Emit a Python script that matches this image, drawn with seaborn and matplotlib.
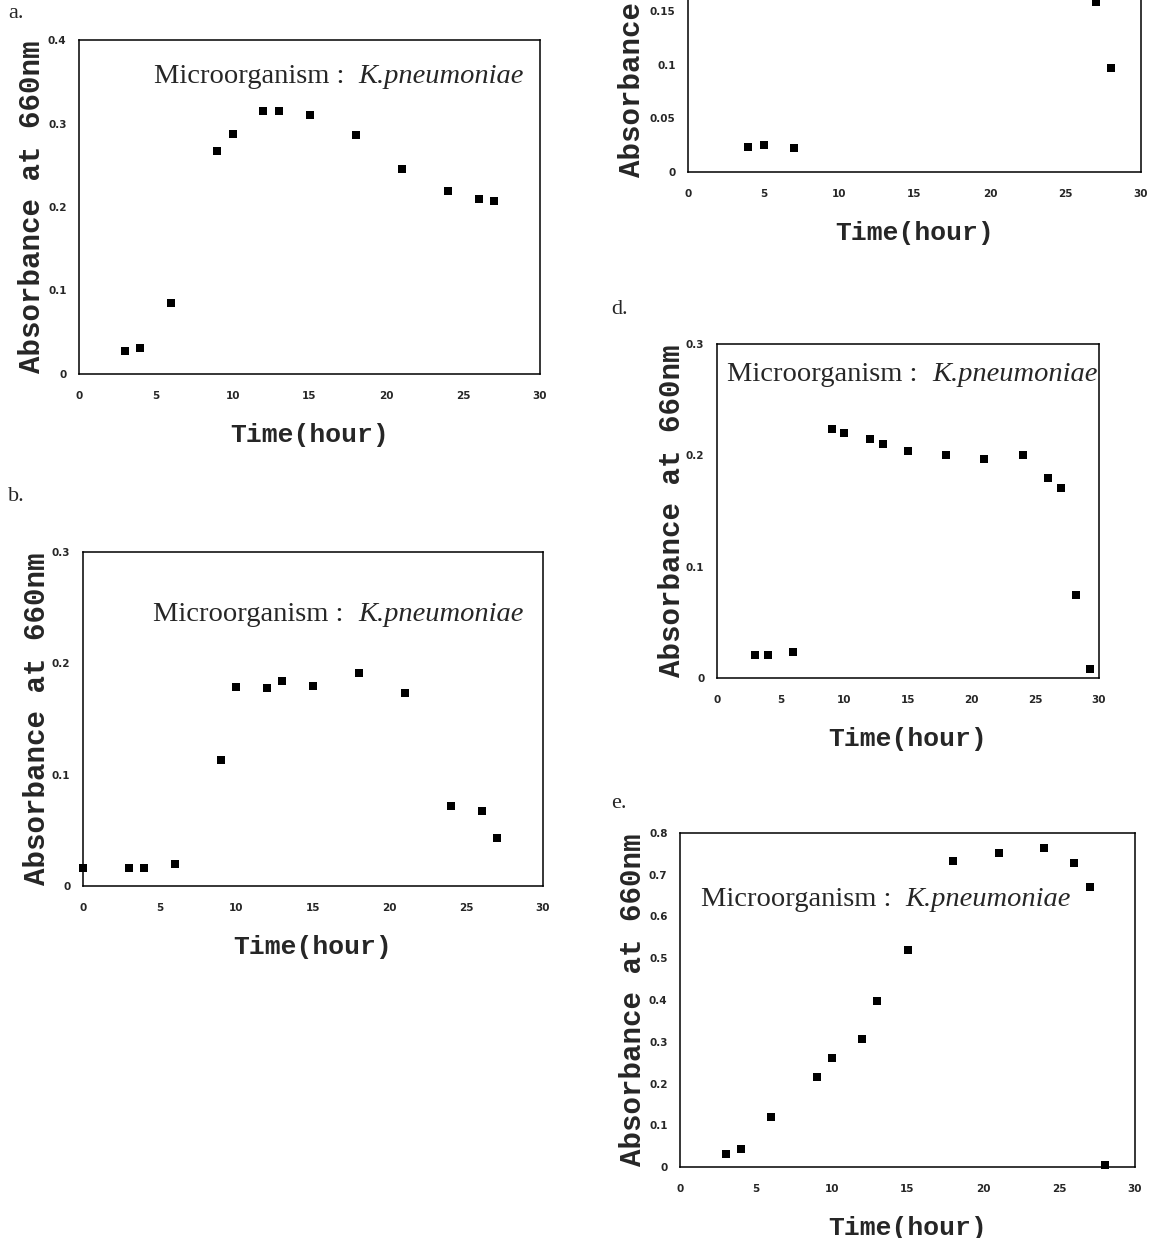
import matplotlib
matplotlib.use('Agg')
import matplotlib.pyplot as plt
import seaborn as sns
import pandas as pd

sns.set_style('white')

# panel a
a_time = [3, 4, 6, 9, 10, 12, 13, 15, 18, 21, 24, 26, 27]
a_abs = [0.028, 0.031, 0.085, 0.267, 0.288, 0.315, 0.315, 0.310, 0.286, 0.246, 0.219, 0.209, 0.207]
a_yticks = [0, 0.1, 0.2, 0.3, 0.4]
a_ylabels = ['0', '0.1', '0.2', '0.3', '0.4']

# panel b
b_time = [0, 3, 4, 6, 9, 10, 12, 13, 15, 18, 21, 24, 26, 27]
b_abs = [0.016, 0.016, 0.016, 0.020, 0.113, 0.179, 0.178, 0.184, 0.180, 0.191, 0.173, 0.072, 0.067, 0.043]
b_yticks = [0, 0.1, 0.2, 0.3]
b_ylabels = ['0', '0.1', '0.2', '0.3']

# panel c (top of panel is cut off in the source)
c_time = [4, 5, 7, 27, 28]
c_abs = [0.023, 0.025, 0.022, 0.158, 0.097]
c_yticks = [0, 0.05, 0.1, 0.15, 0.2, 0.25, 0.3]
c_ylabels = ['0', '0.05', '0.1', '0.15', '0.2', '0.25', '0.3']

# panel d
d_time = [3, 4, 6, 9, 10, 12, 13, 15, 18, 21, 24, 26, 27, 28.2, 29.3]
d_abs = [0.021, 0.021, 0.023, 0.224, 0.220, 0.215, 0.210, 0.204, 0.200, 0.197, 0.200, 0.180, 0.171, 0.075, 0.008]
d_yticks = [0, 0.1, 0.2, 0.3]
d_ylabels = ['0', '0.1', '0.2', '0.3']

# panel e
e_time = [3, 4, 6, 9, 10, 12, 13, 15, 18, 21, 24, 26, 27, 28]
e_abs = [0.030, 0.042, 0.120, 0.215, 0.260, 0.307, 0.397, 0.520, 0.734, 0.752, 0.764, 0.727, 0.670, 0.005]
e_yticks = [0, 0.1, 0.2, 0.3, 0.4, 0.5, 0.6, 0.7, 0.8]
e_ylabels = ['0', '0.1', '0.2', '0.3', '0.4', '0.5', '0.6', '0.7', '0.8']

x_ticks = [0, 5, 10, 15, 20, 25, 30]
x_labels = ['0', '5', '10', '15', '20', '25', '30']

W, H = 1156, 1238
fig = plt.figure(figsize=(W / 100, H / 100), dpi=100)


def px_axes(left, top, right, bottom):
    return fig.add_axes([left / W, 1 - bottom / H, (right - left) / W, (bottom - top) / H])


def panel(ax, t, y, yticks, ylabels, note_xy=None, ypad=1):
    df = pd.DataFrame({'Time': t, 'Abs': y})
    sns.scatterplot(data=df, x='Time', y='Abs', ax=ax, marker='s', s=28,
                    color='black', edgecolor='black', linewidth=0, clip_on=False)
    ax.set_xlim(0, 30)
    ax.set_ylim(yticks[0], yticks[-1])
    ax.set_xticks(x_ticks)
    ax.set_xticklabels(x_labels)
    ax.set_yticks(yticks)
    ax.set_yticklabels(ylabels)
    ax.tick_params(direction='in', length=4, width=0.8, color='black', pad=12,
                   labelsize=7.5)
    ax.tick_params(axis='y', pad=9)
    for lab in ax.get_xticklabels() + ax.get_yticklabels():
        lab.set_fontweight('bold')
    for sp in ax.spines.values():
        sp.set_color('black')
        sp.set_linewidth(1.1)
    ax.set_xlabel('Time(hour)', family='Liberation Mono', fontweight='bold',
                  fontsize=19, labelpad=16)
    ax.set_ylabel('Absorbance at 660nm', family='Liberation Mono', fontweight='bold',
                  fontsize=21, labelpad=ypad)
    if note_xy is not None:
        ax.text(note_xy[0], note_xy[1], 'Microorganism :  ', transform=ax.transAxes,
                family='Liberation Serif', fontsize=20.5, ha='right', va='center')
        ax.text(note_xy[0], note_xy[1], 'K.pneumoniae', transform=ax.transAxes,
                family='Liberation Serif', style='italic', fontsize=20.5,
                ha='left', va='center')


ax_a = px_axes(79, 40, 540, 374)
panel(ax_a, a_time, a_abs, a_yticks, a_ylabels, note_xy=(0.607, 0.892))

ax_b = px_axes(83, 552, 543, 886)
panel(ax_b, b_time, b_abs, b_yticks, b_ylabels, note_xy=(0.598, 0.814))

ax_c = px_axes(688, -150, 1141, 172)
panel(ax_c, c_time, c_abs, c_yticks, c_ylabels, ypad=3)

ax_d = px_axes(717, 344, 1099, 678)
panel(ax_d, d_time, d_abs, d_yticks, d_ylabels, note_xy=(0.563, 0.91), ypad=0)

ax_e = px_axes(680, 833, 1135, 1167)
panel(ax_e, e_time, e_abs, e_yticks, e_ylabels, note_xy=(0.495, 0.802))

for lab, x, y in [('a.', 8, 14), ('b.', 8, 496), ('d.', 611, 309), ('e.', 611, 804)]:
    fig.text(x / W, 1 - y / H, lab, family='Liberation Serif', fontsize=16,
             ha='left', va='center')

fig.savefig('out.png', dpi=100)
